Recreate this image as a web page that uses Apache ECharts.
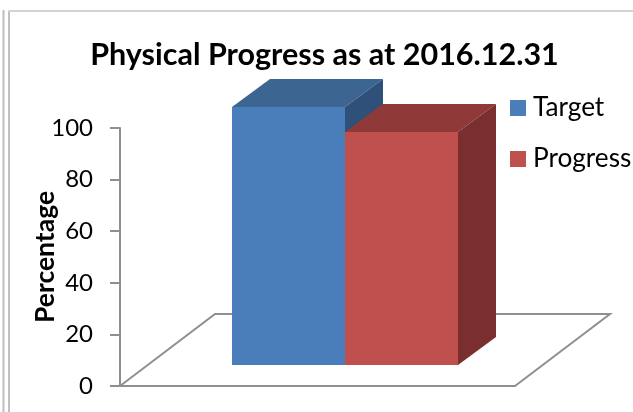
<!DOCTYPE html>
<html>
<head>
<meta charset="utf-8">
<script src="https://cdn.jsdelivr.net/npm/echarts@6/dist/echarts.min.js"></script>
<style>html,body{margin:0;padding:0;background:#fff}#c{width:633px;height:412px}</style>
</head>
<body>
<div id="c"></div>
<script>
var categories = ['2016.12.31'];
var target = [100];
var progress = [90.3];

var chart = echarts.init(document.getElementById('c'), null, {renderer: 'canvas'});
var FONT = 'Lato, "Open Sans", sans-serif';
var GREY = '#8f8f8f';
var FRAME = '#c0c0c0';
var BAR_FRAC = 113 / 395;
var FLOOR = {dx: 95, dy: -72};
var LIFT = {dx: 27.5, dy: -21};
var DEPTH = {dx: 38, dy: -28};

function poly(points, fill) {
  return {type: 'polygon', shape: {points: points}, style: {fill: fill, stroke: null}, silent: true};
}
function barRenderer(slot, front, top, side) {
  return function (params, api) {
    var base = api.coord([api.value(0), 0]);
    var head = api.coord([api.value(0), api.value(1)]);
    var w = api.size([1, 0])[0] * BAR_FRAC;
    var x0 = base[0] + LIFT.dx + slot * w;
    var x1 = x0 + w;
    var yb = base[1] + LIFT.dy;
    var yt = head[1] + LIFT.dy;
    var d = DEPTH;
    return {type: 'group', children: [
      poly([[x0, yb], [x1, yb], [x1, yt], [x0, yt]], front),
      poly([[x0, yt], [x1, yt], [x1 + d.dx, yt + d.dy], [x0 + d.dx, yt + d.dy]], top),
      poly([[x1, yb], [x1 + d.dx, yb + d.dy], [x1 + d.dx, yt + d.dy], [x1, yt]], side)
    ]};
  };
}
function floorRenderer(params, api) {
  var base = api.coord([api.value(0), 0]);
  var w = api.size([1, 0])[0];
  var x0 = base[0] - w / 2, x1 = base[0] + w / 2, y = base[1];
  return {type: 'polyline', silent: true,
    shape: {points: [[x0, y], [x0 + FLOOR.dx, y + FLOOR.dy], [x1 + FLOOR.dx, y + FLOOR.dy], [x1, y]]},
    style: {fill: null, stroke: GREY, lineWidth: 2}};
}

chart.setOption({
  animation: false,
  backgroundColor: '#fff',
  title: {
    text: 'Physical Progress as at 2016.12.31',
    left: 319.5, textAlign: 'center', top: 35,
    textStyle: {fontFamily: FONT, fontSize: 30.5, fontWeight: 'bold', color: '#000'}
  },
  legend: {
    orient: 'vertical', left: 505, top: 90, itemWidth: 16, itemHeight: 16, itemGap: 25,
    icon: 'rect',
    data: ['Target', 'Progress'],
    textStyle: {fontFamily: FONT, fontSize: 26.2, color: '#000', padding: [0, 0, 0, 2]}
  },
  grid: {left: 120, top: 128, width: 395, height: 258, containLabel: false},
  xAxis: {
    type: 'category', data: categories,
    axisLine: {lineStyle: {color: GREY, width: 2}},
    axisTick: {show: false}, axisLabel: {show: false}
  },
  yAxis: {
    type: 'value', min: 0, max: 100, interval: 20,
    name: 'Percentage', nameLocation: 'middle', nameGap: 61, nameRotate: 90, nameMoveOverlap: false,
    nameTextStyle: {fontFamily: FONT, fontSize: 26.5, fontWeight: 'bold', color: '#000'},
    axisLine: {show: true, lineStyle: {color: GREY, width: 2}},
    axisTick: {show: true, length: 10, lineStyle: {color: GREY, width: 2}},
    axisLabel: {fontFamily: FONT, fontSize: 24, color: '#000', margin: 27},
    splitLine: {show: false}
  },
  series: [
    {type: 'custom', name: 'floor', renderItem: floorRenderer, clip: false, silent: true,
     encode: {x: 0, y: 1}, data: categories.map(function (c, i) { return [i, 0]; })},
    {type: 'custom', name: 'Target', clip: false, itemStyle: {color: '#4a7ebb'},
     renderItem: barRenderer(-1, '#4a7ebb', '#3c6592', '#2f5079'),
     encode: {x: 0, y: 1}, data: target.map(function (v, i) { return [i, v]; })},
    {type: 'custom', name: 'Progress', clip: false, itemStyle: {color: '#c0504d'},
     renderItem: barRenderer(0, '#c0504d', '#8f3a38', '#7a2f2e'),
     encode: {x: 0, y: 1}, data: progress.map(function (v, i) { return [i, v]; })}
  ],
  graphic: [
    {type: 'line', silent: true, shape: {x1: 3.5, y1: 10, x2: 3.5, y2: 412}, style: {stroke: FRAME, lineWidth: 2}},
    {type: 'line', silent: true, shape: {x1: 9, y1: 10.5, x2: 9, y2: 412}, style: {stroke: FRAME, lineWidth: 2}},
    {type: 'line', silent: true, shape: {x1: 8, y1: 11, x2: 633, y2: 11}, style: {stroke: '#d4d4d4', lineWidth: 2}}
  ]
});
</script>
</body>
</html>
